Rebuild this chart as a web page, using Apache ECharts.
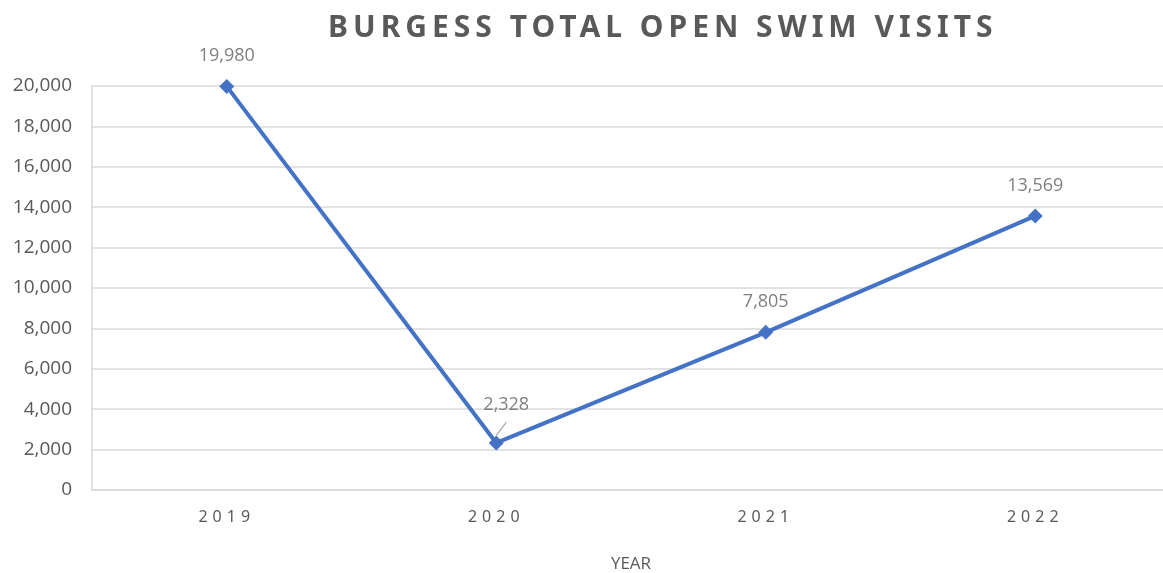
<!DOCTYPE html>
<html><head><meta charset="utf-8">
<script src="https://cdn.jsdelivr.net/npm/echarts@6/dist/echarts.min.js"></script>
<style>html,body{margin:0;padding:0;background:#fff}#c{width:1163px;height:573px}</style>
</head><body><div id="c"></div>
<script>
const years = ['2019', '2020', '2021', '2022'];
const visits = [19980, 2328, 7805, 13569];
const yTicks = [0, 2000, 4000, 6000, 8000, 10000, 12000, 14000, 16000, 18000, 20000];
const titleText = 'BURGESS TOTAL OPEN SWIM VISITS';
const axisName = 'YEAR';

// letter spacing for spaced texts (title, x labels), keyed on font family marker
const SP = "'Noto Sans', 'DejaVu Sans'";
const origFill = CanvasRenderingContext2D.prototype.fillText;
CanvasRenderingContext2D.prototype.fillText = function (t, x, y, m) {
  const f = this.font || '';
  let ls = '0px';
  if (f.indexOf('DejaVu') >= 0) ls = '5px';
  try { this.letterSpacing = ls; } catch (e) {}
  return m === undefined ? origFill.call(this, t, x, y) : origFill.call(this, t, x, y, m);
};

const fmt = v => v.toLocaleString('en-US');
const chart = echarts.init(document.getElementById('c'));
chart.setOption({
  animation: false,
  backgroundColor: '#ffffff',
  title: {
    text: titleText, left: 323, top: 8,
    textStyle: { fontFamily: SP, fontWeight: 'bold', fontSize: 30, color: '#595959' }
  },
  grid: { left: 92, right: -7, top: 86, bottom: 83, containLabel: false, outerBoundsMode: 'none' },
  xAxis: {
    type: 'category', data: years, boundaryGap: true,
    name: axisName, nameLocation: 'middle', nameGap: 66,
    nameTextStyle: { fontFamily: "'Open Sans'", fontSize: 17, color: '#595959' },
    axisLine: { lineStyle: { color: '#d9d9d9', width: 1.5 } },
    axisTick: { show: false },
    axisLabel: { fontFamily: SP, fontSize: 16, color: '#595959', margin: 19 }
  },
  yAxis: {
    type: 'value', min: yTicks[0], max: yTicks[yTicks.length - 1], interval: yTicks[1] - yTicks[0],
    axisLine: { show: true, lineStyle: { color: '#d9d9d9', width: 1.5 } },
    axisTick: { show: false },
    splitLine: { lineStyle: { color: '#d9d9d9', width: 1.5 } },
    axisLabel: { fontFamily: "'Open Sans'", fontSize: 19, color: '#595959', margin: 20, formatter: v => fmt(v) }
  },
  series: [{
    type: 'line', data: visits.map((v, i) => i === 1 ? {
      value: v,
      label: { offset: [10, -8] },
      labelLine: { show: true, lineStyle: { color: '#a6a6a6', width: 1.2 } }
    } : v),
    symbol: 'diamond', symbolSize: 15,
    lineStyle: { color: '#4472C4', width: 4 },
    itemStyle: { color: '#4472C4' },
    label: {
      show: true, position: 'top', distance: 14,
      fontFamily: "'Open Sans'", fontSize: 18, color: '#7f7f7f',
      formatter: p => fmt(p.value)
    }
  }]
});
</script></body></html>
